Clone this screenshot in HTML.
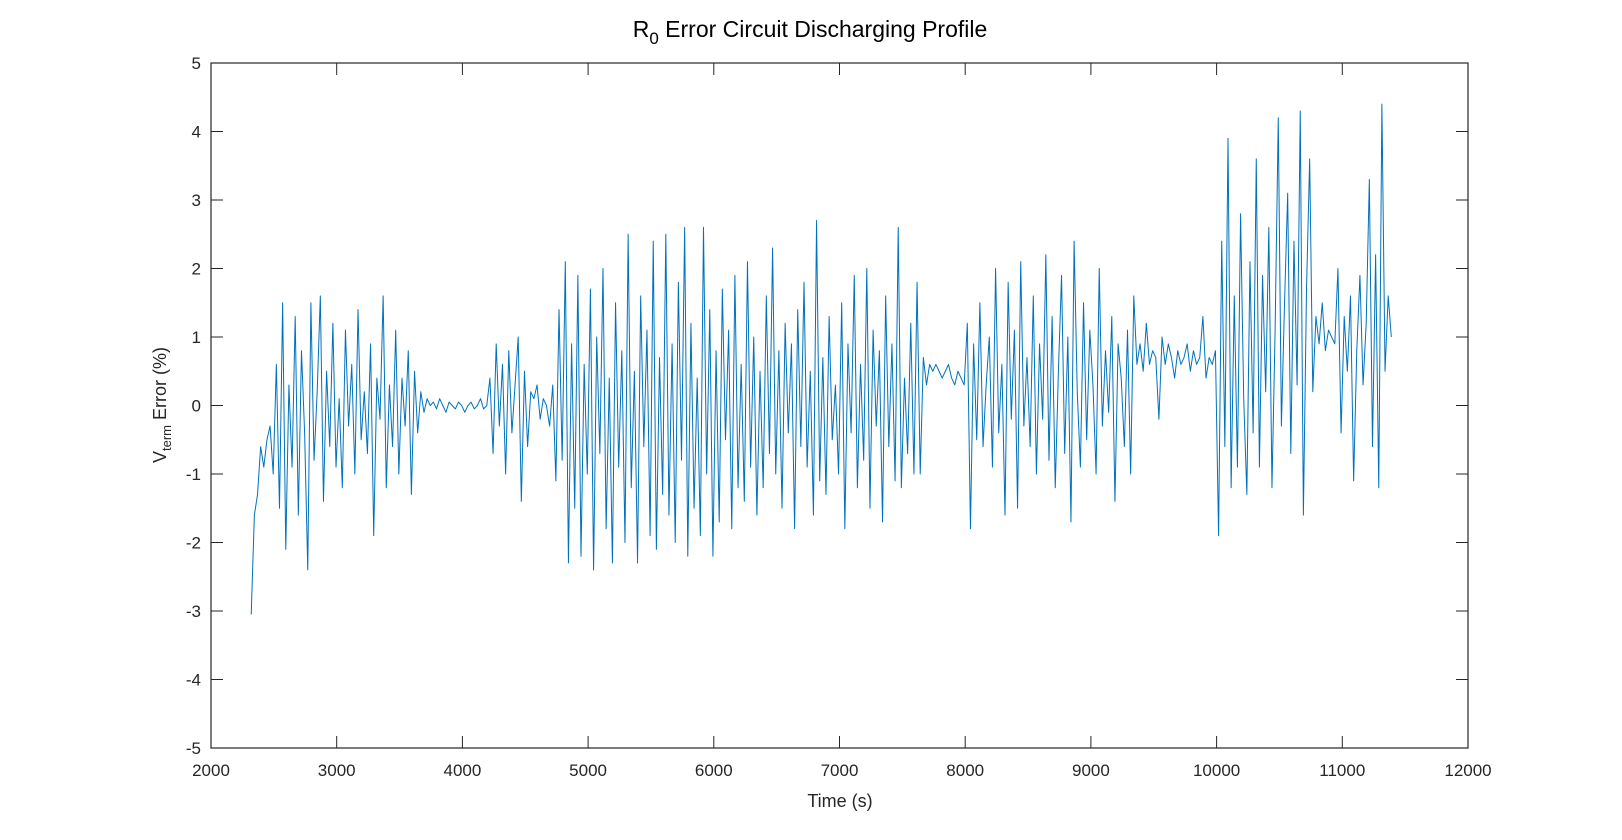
<!DOCTYPE html>
<html><head><meta charset="utf-8"><style>
body{margin:0;background:#fff;}
svg{display:block;font-family:"Liberation Sans",Arial,sans-serif;}
</style></head><body>
<svg id="chart" width="1622" height="840" viewBox="0 0 1622 840">
<text x="810" y="37" text-anchor="middle" font-size="23" fill="#000">R<tspan font-size="17" dy="7">0</tspan><tspan dy="-7"> Error Circuit Discharging Profile</tspan></text>
<g id="axes"></g>
<g id="series"></g>
<text x="840" y="807" text-anchor="middle" font-size="18" fill="#262626">Time (s)</text>
<text transform="translate(166,405) rotate(-90)" text-anchor="middle" font-size="18" fill="#262626">V<tspan font-size="13" dy="5">term</tspan><tspan dy="-5"> Error (%)</tspan></text>
</svg>
<script>
const xTicks=[2000,3000,4000,5000,6000,7000,8000,9000,10000,11000,12000];
const yTicks=[-5,-4,-3,-2,-1,0,1,2,3,4,5];
const tStart=2320, tEnd=11390;
const errValues=[-3.05,-1.6,-1.3,-0.6,-0.9,-0.5,
-0.3,-1.0,0.6,-1.5,1.5,-2.1,0.3,-0.9,1.3,-1.6,0.8,-0.4,-2.4,1.5,-0.8,0.2,1.6,-1.4,0.5,-0.6,1.2,-0.9,0.1,-1.2,1.1,-0.3,0.6,-1.0,1.4,-0.5,0.2,-0.7,0.9,-1.9,0.4,-0.2,1.6,-1.2,0.3,-0.6,1.1,-1.0,0.4,-0.3,0.8,-1.3,0.5,-0.4,0.2,-0.1,
0.1,0.0,0.05,-0.05,0.1,0.0,-0.1,0.05,0.0,-0.05,0.05,0.0,-0.1,0.0,0.05,-0.05,0.0,0.1,-0.05,0.0,
0.4,-0.7,0.9,-0.3,0.6,-1.0,0.8,-0.4,0.3,1.0,-1.4,0.5,-0.6,0.2,0.1,0.3,-0.2,0.1,0.0,-0.3,
0.3,-1.1,1.4,-0.8,2.1,-2.3,0.9,-1.5,1.9,-2.2,0.6,-1.0,1.7,-2.4,1.0,-0.7,2.0,-1.8,0.4,-2.3,1.5,-0.9,0.8,-2.0,2.5,-1.2,0.5,-2.3,1.6,-0.6,1.1,-1.9,2.4,-2.1,0.7,-1.3,2.5,-1.6,0.9,-2.0,1.8,-0.8,2.6,-2.2,1.2,-1.5,0.4,-1.9,2.6,-1.0,1.4,-2.2,0.8,-1.7,1.7,-0.5,1.1,-1.8,1.9,-1.2,0.6,-1.4,2.1,-0.9,1.0,-1.6,0.5,-1.2,1.6,-0.7,2.3,-1.0,0.8,-1.5,1.2,-0.4,0.9,-1.8,1.4,-0.6,1.8,-0.9,0.5,-1.6,2.7,-1.1,0.7,-1.3,1.3,-0.5,0.3,-1.0,1.5,-1.8,0.9,-0.4,1.9,-1.2,0.6,-0.8,2.0,-1.5,1.1,-0.3,0.8,-1.7,1.6,-0.6,0.9,-1.1,2.6,-1.2,0.4,-0.7,1.2,-1.0,
1.8,-1.0,0.7,0.3,0.6,0.5,0.6,0.5,0.4,0.5,0.6,0.4,0.3,0.5,0.4,0.3,
1.2,-1.8,0.9,-0.5,1.5,-0.6,0.3,1.0,-0.9,2.0,-0.4,0.6,-1.6,1.8,-0.2,1.1,-1.5,2.1,-0.3,0.7,-0.6,1.6,-1.0,0.9,-0.2,2.2,-0.8,1.3,-1.2,0.5,1.9,-0.7,1.0,-1.7,2.4,0.2,-0.9,1.5,-0.5,1.1,0.3,-1.0,2.0,-0.3,0.8,-0.1,1.3,-1.4,0.9,0.4,-0.6,1.1,-1.0,1.6,0.6,0.9,0.5,1.2,0.6,0.8,0.7,-0.2,1.0,0.6,0.9,0.7,0.4,0.8,
0.6,0.7,0.9,0.5,0.8,0.6,0.7,1.3,0.4,0.7,0.6,0.8,
-1.9,2.4,-0.6,3.9,-1.2,1.6,-0.9,2.8,0.1,-1.3,2.1,-0.4,3.6,-0.9,1.9,0.2,2.6,-1.2,1.1,4.2,-0.3,1.5,3.1,-0.7,2.4,0.3,4.3,-1.6,1.7,3.6,0.2,1.3,0.9,1.5,0.8,1.1,1.0,0.9,2.0,-0.4,1.3,0.5,1.6,-1.1,0.8,1.9,0.3,1.2,3.3,-0.6,2.2,-1.2,4.4,0.5,1.6,1.0];

const L=211,R=1468,T=63,B=748,NS="http://www.w3.org/2000/svg";
const xS=v=>L+(v-2000)/10000*(R-L);
const yS=v=>B-(v+5)/10*(B-T);
const axes=document.getElementById('axes');
function mk(tag,attrs,parent){const e=document.createElementNS(NS,tag);for(const k in attrs)e.setAttribute(k,attrs[k]);parent.appendChild(e);return e;}
const box=mk('rect',{x:L,y:T,width:R-L,height:B-T,fill:'none',stroke:'#262626','stroke-width':1.2},axes);


xTicks.forEach(v=>{
  const x=xS(v);
  const t1=mk('path',{d:`M${x},${B}V${B-12}M${x},${T}V${T+12}`,stroke:'#262626','stroke-width':1},axes);
  
  
  const lb=mk('text',{x:x,y:B+28,'text-anchor':'middle','font-size':17,fill:'#262626'},axes);
  lb.textContent=v;
  
  
});
yTicks.forEach(v=>{
  const y=yS(v);
  const t1=mk('path',{d:`M${L},${y}H${L+12}M${R},${y}H${R-12}`,stroke:'#262626','stroke-width':1},axes);
  
  
  const lb=mk('text',{x:L-10,y:y+6,'text-anchor':'end','font-size':17,fill:'#262626'},axes);
  lb.textContent=v;
  
  
});
const n=errValues.length;
let d='';
errValues.forEach((v,i)=>{const t=tStart+(tEnd-tStart)*i/(n-1);d+=(i?'L':'M')+xS(t).toFixed(2)+','+yS(v).toFixed(2);});
const line=mk('path',{d:d,fill:'none',stroke:'#0072BD','stroke-width':1,'stroke-linejoin':'round'},document.getElementById('series'));


</script>
</body></html>
